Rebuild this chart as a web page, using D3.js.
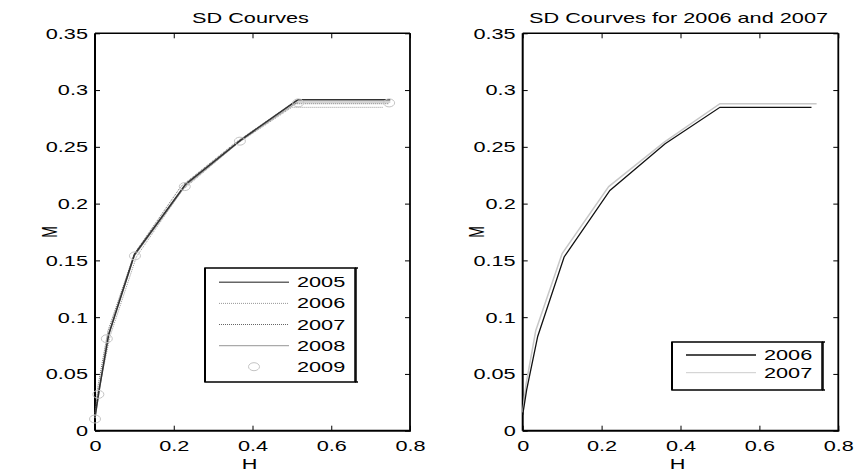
<!DOCTYPE html>
<html><head><meta charset="utf-8">
<script src="https://cdn.jsdelivr.net/npm/d3@7"></script>
<style>
body{margin:0;background:#fff}
svg{display:block}
text{font-family:"Liberation Sans",Arial,sans-serif;fill:#000}
</style></head><body>
<svg id="c" width="857" height="474"></svg>
<script>
// ---- data ----
const xTicks = [0, 0.2, 0.4, 0.6, 0.8];
const yTicks = [0, 0.05, 0.1, 0.15, 0.2, 0.25, 0.3, 0.35];
const xTickLabels = ["0", "0.2", "0.4", "0.6", "0.8"];
const yTickLabels = ["0", "0.05", "0.1", "0.15", "0.2", "0.25", "0.3", "0.35"];

const H2005 = [0, 0.010, 0.035, 0.100, 0.230, 0.370, 0.515, 0.750];
const M2005 = [0.012, 0.035, 0.085, 0.155, 0.217, 0.256, 0.2915, 0.2915];
const H2006 = [0, 0.010, 0.038, 0.105, 0.221, 0.361, 0.500, 0.732];
const M2006 = [0.014, 0.036, 0.083, 0.153, 0.2116, 0.2528, 0.2848, 0.2848];
const H2007 = [0, 0.008, 0.033, 0.100, 0.218, 0.358, 0.500, 0.745];
const M2007 = [0.016, 0.040, 0.088, 0.156, 0.215, 0.254, 0.288, 0.288];
const H2008 = [0, 0.010, 0.032, 0.100, 0.228, 0.368, 0.515, 0.750];
const M2008 = [0.011, 0.033, 0.082, 0.154, 0.215, 0.255, 0.2895, 0.2895];
const H2009 = [0, 0.0085, 0.030, 0.1015, 0.228, 0.368, 0.516, 0.747];
const M2009 = [0.0103, 0.032, 0.081, 0.154, 0.215, 0.255, 0.2887, 0.2887];

const titles = ["SD Courves", "SD Courves for 2006 and 2007"];
const xLabel = "H", yLabel = "M";

// ---- drawing ----
const SX = 1.55, FS = 14;
const svg = d3.select("#c");
const zip = (a, b) => a.map((v, i) => [v, b[i]]);

function stretchText(g, x, y, str, anchor, extra) {
  return g.append("text")
    .attr("transform", `translate(${x},${y}) scale(${SX},1)` + (extra || ""))
    .attr("text-anchor", anchor).attr("font-size", FS).text(str);
}

function panel(L, R, T, B, title, series, legend) {
  const g = svg.append("g");
  const x = d3.scaleLinear().domain([0, 0.8]).range([L, R]);
  const y = d3.scaleLinear().domain([0, 0.35]).range([B, T]);

  const ax = (a, tx, ty, vals, labels) => {
    const s = g.append("g").attr("transform", `translate(${tx},${ty})`).call(a.tickValues(vals).tickSize(-5).tickSizeOuter(0).tickFormat((d, i) => labels ? labels[i] : ""));
    s.select(".domain").remove();
    s.selectAll("line").attr("stroke", "#000").attr("stroke-width", 1);
    s.selectAll("text").attr("font-size", FS).attr("font-family", '"Liberation Sans",Arial,sans-serif');
    return s;
  };
  const yl = ax(d3.axisLeft(y), L, 0, yTicks, yTickLabels);
  yl.selectAll("text").attr("x", 0).attr("dy", "0.35em").attr("transform", `translate(-7,0) scale(${SX},1)`);
  ax(d3.axisRight(y), R, 0, yTicks, null);
  const xb = ax(d3.axisBottom(x), 0, B, xTicks, xTickLabels);
  xb.selectAll("text").attr("y", 0).attr("dy", 0).attr("transform", `translate(0,20) scale(${SX},1)`);
  ax(d3.axisTop(x), 0, T, xTicks, null);

  // frame
  g.append("line").attr("x1", L).attr("x2", R).attr("y1", T).attr("y2", T).attr("stroke", "#000").attr("stroke-width", 1.5);
  g.append("line").attr("x1", L).attr("x2", R + 1).attr("y1", B).attr("y2", B).attr("stroke", "#000").attr("stroke-width", 2);
  g.append("line").attr("x1", L).attr("x2", L).attr("y1", T).attr("y2", B).attr("stroke", "#000").attr("stroke-width", 2);
  g.append("line").attr("x1", R).attr("x2", R).attr("y1", T).attr("y2", B).attr("stroke", "#000").attr("stroke-width", 1.8);

  // series
  const line = d3.line().x(d => x(d[0])).y(d => y(d[1]));
  series.forEach(s => {
    if (s.marker) {
      g.append("g").selectAll("ellipse").data(zip(s.h, s.m)).join("ellipse")
        .attr("cx", d => x(d[0])).attr("cy", d => y(d[1])).attr("rx", 5.5).attr("ry", 4)
        .attr("fill", "none").attr("stroke", s.color).attr("stroke-width", 1);
    } else {
      g.append("path").datum(zip(s.h, s.m)).attr("d", line).attr("fill", "none")
        .attr("stroke", s.color).attr("stroke-width", s.width).attr("stroke-dasharray", s.dash || null);
    }
  });

  // legend
  const lg = g.append("g");
  const lx = legend.x, ly = legend.y, lw = legend.w, lh = legend.h;
  lg.append("rect").attr("x", lx).attr("y", ly).attr("width", lw).attr("height", lh)
    .attr("fill", "#fff").attr("stroke", "#000").attr("stroke-width", 1.5);
  lg.append("line").attr("x1", lx).attr("x2", lx).attr("y1", ly).attr("y2", ly + lh).attr("stroke", "#000").attr("stroke-width", 2);
  lg.append("path").attr("d", `M${lx + lw},${ly} h3 M${lx + lw},${ly + lh} h3 M${lx + lw + 1},${ly} v${lh}`)
    .attr("stroke", "#000").attr("stroke-width", 1.5).attr("fill", "none");
  legend.items.forEach((s, i) => {
    const cy = ly + legend.first + i * legend.step;
    if (s.marker) {
      lg.append("ellipse").attr("cx", lx + 49).attr("cy", cy).attr("rx", 5.5).attr("ry", 4)
        .attr("fill", "none").attr("stroke", s.color).attr("stroke-width", 1);
    } else {
      lg.append("line").attr("x1", lx + 14).attr("x2", lx + 84).attr("y1", cy).attr("y2", cy)
        .attr("stroke", s.legColor || s.color).attr("stroke-width", s.legWidth || s.width).attr("stroke-dasharray", s.dash || null);
    }
    stretchText(lg, lx + 92, cy, s.name, "start").attr("dy", "0.36em");
  });

  // titles & labels
  stretchText(g, (L + R) / 2 - 2, 23, title, "middle");
  stretchText(g, (L + R) / 2 - 3, 469, xLabel, "middle");
  stretchText(g, L - 46, (T + B) / 2, yLabel, "middle", " rotate(-90)").attr("dy", "0.35em");
}

const s2005 = {name: "2005", h: H2005, m: M2005, color: "#333", width: 1.6, legColor: "#666", legWidth: 1.6};
const s2006 = {name: "2006", h: H2006, m: M2006, color: "#999", width: 1, dash: "1,1"};
const s2007 = {name: "2007", h: H2007, m: M2007, color: "#666", width: 1, dash: "1,1"};
const s2008 = {name: "2008", h: H2008, m: M2008, color: "#aaa", width: 1.2};
const s2009 = {name: "2009", h: H2009, m: M2009, color: "#c4c4c4", marker: true};

panel(95, 410, 33.3, 430.7, titles[0],
  [s2008, s2006, s2007, s2005, s2009],
  {x: 205, y: 268, w: 150, h: 114, first: 14.3, step: 21.1, items: [s2005, s2006, s2007, s2008, s2009]});

const r2006 = {name: "2006", h: H2006, m: M2006, color: "#111", width: 1.3};
const r2007 = {name: "2007", h: H2007, m: M2007, color: "#c8c8c8", width: 1.5, legColor: "#ccc", legWidth: 1};
panel(522.7, 838.3, 33.3, 430.7, titles[1],
  [r2007, r2006],
  {x: 672, y: 342, w: 150, h: 48, first: 13, step: 17.7, items: [r2006, r2007]});
</script>
</body></html>
